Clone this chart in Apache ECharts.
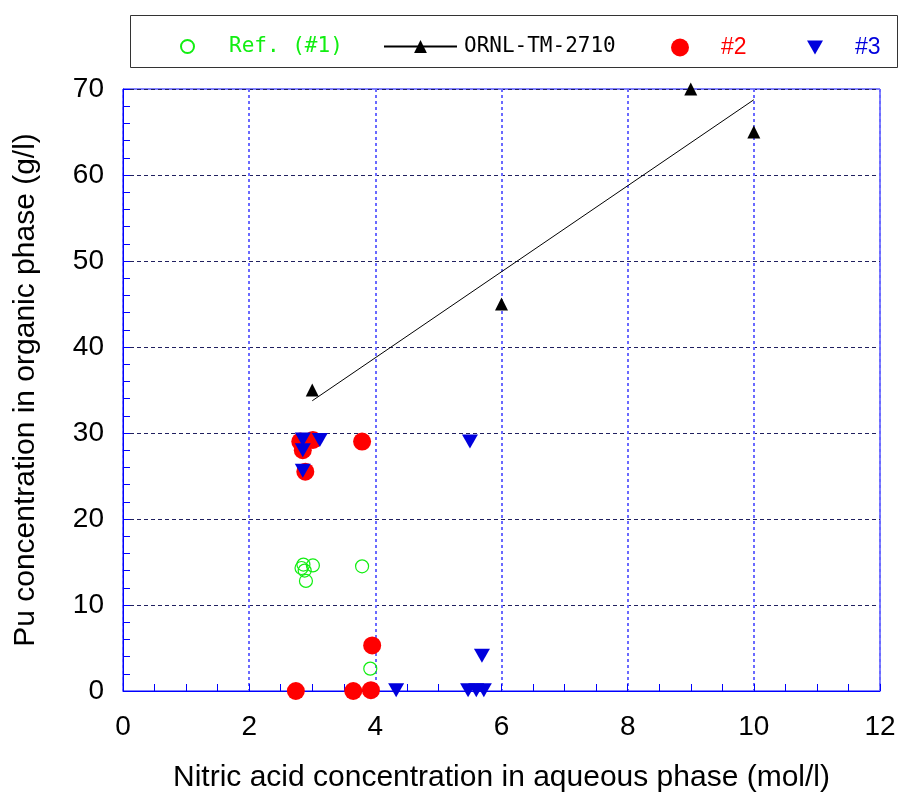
<!DOCTYPE html>
<html>
<head>
<meta charset="utf-8">
<script src="https://cdn.jsdelivr.net/npm/echarts@6/dist/echarts.min.js"></script>
<style>html,body{margin:0;padding:0;background:#fff;}#c{width:899px;height:799px;}</style>
</head>
<body>
<div id="c"></div>
<script>
// Data
const xTicks = [0, 2, 4, 6, 8, 10, 12];
const yTicks = [0, 10, 20, 30, 40, 50, 60, 70];
const refPoints = [[2.83,14.3],[2.86,14.7],[2.88,14.0],[2.9,12.8],[3.01,14.6],[3.79,14.5],[3.92,2.6]];
const ornlPoints = [[3,35],[6,45],[9,70],[10,65]];
const ornlFit = [[3,33.75],[10,68.75]];
const s2Points = [[2.74,0],[2.81,29.0],[3.01,29.2],[2.85,28.0],[2.89,25.5],[3.79,29.0],[3.65,0],[3.93,0.1],[3.95,5.3]];
const s3Points = [[2.85,29.25],[2.85,28.0],[3.12,29.2],[2.85,25.6],[4.33,0.1],[5.5,29.0],[5.47,0.1],[5.6,0.1],[5.72,0.1],[5.69,4.1]];

const FONT = '"Liberation Sans", Arial, sans-serif';
const MONO = '"DejaVu Sans Mono", monospace';
const downTri = 'path://M0,0L16,0L8,14Z';

const chart = echarts.init(document.getElementById('c'));
const option = {
  animation: false,
  backgroundColor: '#fff',
  grid: {left: 123, right: 19, top: 89, bottom: 108, show: true, borderColor: '#0000ff', borderWidth: 1, backgroundColor: 'transparent'},
  graphic: [{type: 'rect', left: 128, top: 13, shape: {width: 767, height: 52}, style: {fill: 'none', stroke: '#333', lineWidth: 1}, z: 0}],
  legend: [
    {data: [{name: 'Ref. (#1)'}], left: 175, top: 31, itemWidth: 13, itemHeight: 13,
     textStyle: {color: '#11ee11', fontFamily: MONO, fontSize: 21, padding: [0,0,0,30]}},
    {data: [{name: 'ORNL-TM-2710'}], left: 378, top: 31, itemWidth: 73, itemHeight: 16,
     textStyle: {color: '#000', fontFamily: MONO, fontSize: 21, padding: [0,0,0,2]}},
    {data: [{name: '#2'}], left: 666, top: 31, itemWidth: 18, itemHeight: 18,
     textStyle: {color: '#ff0000', fontFamily: FONT, fontSize: 23, padding: [0,0,0,27]}},
    {data: [{name: '#3', icon: downTri}], left: 802, top: 31, itemWidth: 16, itemHeight: 14,
     textStyle: {color: '#0000dd', fontFamily: FONT, fontSize: 23, padding: [0,0,0,27]}}
  ],
  xAxis: {
    type: 'value', min: xTicks[0], max: xTicks[xTicks.length-1], interval: 2,
    name: 'Nitric acid concentration in aqueous phase (mol/l)', nameLocation: 'middle', nameGap: 72,
    nameTextStyle: {fontFamily: FONT, fontSize: 30, color: '#000'},
    axisLine: {lineStyle: {color: '#0000ff', width: 1}},
    axisTick: {show: true, inside: true, length: 7, lineStyle: {color: '#0000ff'}},
    minorTick: {show: true, splitNumber: 4, length: 7, lineStyle: {color: '#0000ff'}},
    axisLabel: {fontFamily: FONT, fontSize: 28, color: '#000', margin: 22},
    splitLine: {show: true, lineStyle: {color: '#6a6aff', type: [3,3], width: 2}}
  },
  yAxis: {
    type: 'value', min: yTicks[0], max: yTicks[yTicks.length-1], interval: 10,
    name: 'Pu concentration in organic phase (g/l)', nameLocation: 'middle', nameGap: 82,
    nameTextStyle: {fontFamily: FONT, fontSize: 30, color: '#000'},
    axisLine: {lineStyle: {color: '#0000ff', width: 1}},
    axisTick: {show: true, inside: true, length: 7, lineStyle: {color: '#0000ff'}},
    minorTick: {show: true, splitNumber: 5, length: 7, lineStyle: {color: '#0000ff'}},
    axisLabel: {fontFamily: FONT, fontSize: 28, color: '#000', margin: 19},
    splitLine: {show: true, lineStyle: {color: '#202060', type: [4,3], width: 1}}
  },
  series: [
    {name: 'ORNL-TM-2710', type: 'line', data: ornlFit, symbol: 'triangle', showSymbol: false,
     lineStyle: {color: '#000', width: 1}, itemStyle: {color: '#000'}, z: 2},
    {name: 'Ref. (#1)', type: 'scatter', data: refPoints, symbol: 'circle', symbolSize: 13,
     itemStyle: {color: 'rgba(0,0,0,0)', borderColor: '#11ee11', borderWidth: 1.2, opacity: 1}, z: 3},
    {name: '#2', type: 'scatter', data: s2Points, symbol: 'circle', symbolSize: 18,
     itemStyle: {color: '#ff0000', opacity: 1}, z: 4},
    {name: '#3', type: 'scatter', data: s3Points, symbol: downTri, symbolSize: [16,14],
     itemStyle: {color: '#0000dd', opacity: 1}, z: 5},
    {name: 'ORNL points', type: 'scatter', data: ornlPoints, symbol: 'triangle', symbolSize: 13,
     itemStyle: {color: '#000', opacity: 1}, z: 6}
  ]
};
chart.setOption(option);
</script>
</body>
</html>
